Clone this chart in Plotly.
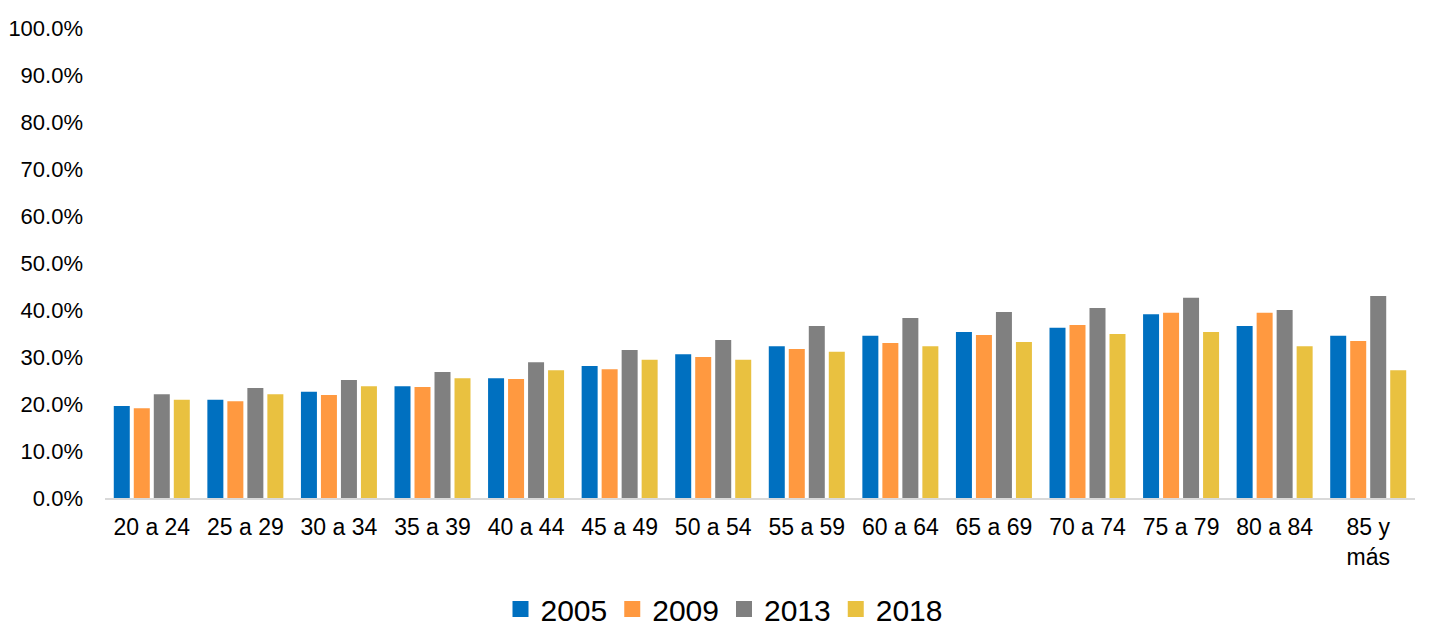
import plotly.graph_objects as go

categories = ["20 a 24", "25 a 29", "30 a 34", "35 a 39", "40 a 44", "45 a 49", "50 a 54",
              "55 a 59", "60 a 64", "65 a 69", "70 a 74", "75 a 79", "80 a 84", "85 y<br>más"]

v2005 = [19.6, 20.9, 22.6, 23.8, 25.5, 28.1, 30.6, 32.3, 34.5, 35.3, 36.2, 39.1, 36.6, 34.5]
v2009 = [19.1, 20.6, 21.9, 23.6, 25.3, 27.4, 30.0, 31.7, 33.0, 34.7, 36.8, 39.4, 39.4, 33.4]
v2013 = [22.1, 23.4, 25.1, 26.8, 28.9, 31.5, 33.6, 36.6, 38.3, 39.6, 40.4, 42.6, 40.0, 43.0]
v2018 = [20.9, 22.1, 23.8, 25.5, 27.2, 29.4, 29.4, 31.1, 32.3, 33.2, 34.9, 35.3, 32.3, 27.2]

series = [("2005", v2005, "#0070C0"), ("2009", v2009, "#FF9940"),
          ("2013", v2013, "#808080"), ("2018", v2018, "#E9C140")]

fig = go.Figure()
for name, vals, color in series:
    fig.add_trace(go.Bar(x=categories, y=[v / 100 for v in vals], name=name,
                         marker=dict(color=color, line=dict(width=0)),
                         showlegend=False, legendgroup=name))
# legend entries with larger square swatches
for name, vals, color in series:
    fig.add_trace(go.Scatter(x=[None], y=[None], mode="markers", name=name,
                             legendgroup=name,
                             marker=dict(symbol="square", size=16, color=color)))

fig.update_layout(
    width=1432, height=636,
    barmode="group", bargap=0.145, bargroupgap=0.2,
    plot_bgcolor="white", paper_bgcolor="white",
    margin=dict(l=97, r=25, t=20, b=146, autoexpand=False),
    font=dict(family="Liberation Sans, Arial, sans-serif", color="#000000"),
    showlegend=True,
    legend=dict(orientation="h", x=0.5, xanchor="center", xref="container",
                y=1 - 601 / 636, yanchor="middle", yref="container",
                font=dict(size=30), itemwidth=30, traceorder="normal"),
    xaxis=dict(showline=True, linecolor="#d9d9d9", linewidth=2, ticks="",
               tickfont=dict(size=23), showgrid=False, automargin=False,
               ticklabelstandoff=7),
    yaxis=dict(range=[0, 1], dtick=0.1, tickformat=".1%", showgrid=False,
               showline=False, zeroline=False, ticks="", automargin=False,
               tickfont=dict(size=22), ticklabelstandoff=21),
)

fig.write_html("out.html")
